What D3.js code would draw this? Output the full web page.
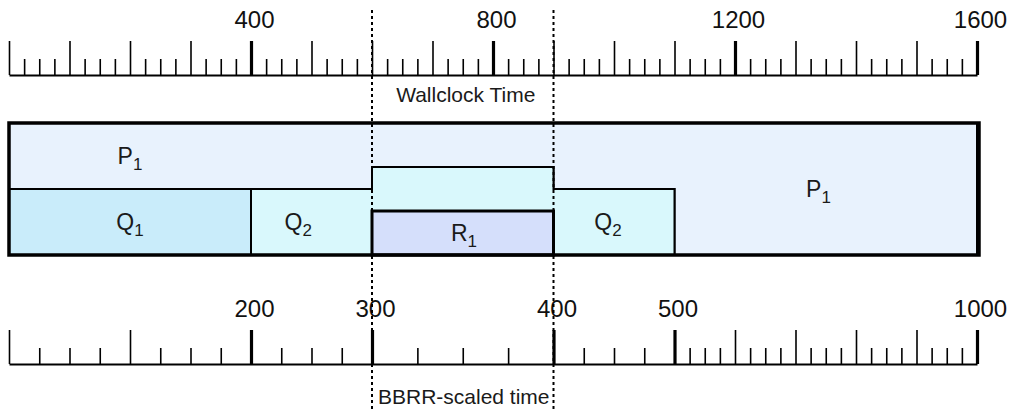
<!DOCTYPE html>
<html>
<head>
<meta charset="utf-8">
<script src="https://cdn.jsdelivr.net/npm/d3@7"></script>
<style>
  body { margin: 0; background: #fff; }
  svg { display: block; font-family: "Liberation Sans", Arial, sans-serif; }
</style>
</head>
<body>
<svg id="chart" width="1018" height="411"></svg>
<script>
// instants (wallclock) where the set of running jobs changes
const wallBreaks = [0, 400, 600, 900, 1100, 1600];
// BBRR-scaled time at those same instants
const bbrrBreaks = [0, 200, 300, 400, 500, 1000];
// jobs running in each interval, bottom to top
const running = [
  ['Q1', 'P1'],
  ['Q2', 'P1'],
  ['R1', 'Q2', 'P1'],
  ['Q2', 'P1'],
  ['P1'],
];
const jobs = ['P1', 'Q1', 'Q2', 'R1'];
const jobColors = { P1: '#e8f2fd', Q1: '#c9ecfa', Q2: '#d9f8fc', R1: '#d5dffb' };
// job labels: name, subscript, wallclock time, interval
const jobLabels = [
  { job: 'P1', name: 'P', sub: '1', t: 200, seg: 0 },
  { job: 'Q1', name: 'Q', sub: '1', t: 200, seg: 0 },
  { job: 'Q2', name: 'Q', sub: '2', t: 478, seg: 1 },
  { job: 'R1', name: 'R', sub: '1', t: 752, seg: 2 },
  { job: 'Q2', name: 'Q', sub: '2', t: 990, seg: 3 },
  { job: 'P1', name: 'P', sub: '1', t: 1338, seg: 4 },
];
const wallTicks = d3.range(0, 1601, 25);
const wallLabels = [400, 800, 1200, 1600];
const bbrrTicks = d3.range(0, 1001, 25);
const bbrrLabels = [200, 300, 400, 500, 1000];
const markers = [600, 900];

const svg = d3.select('#chart');
const x = d3.scaleLinear().domain([0, 1600]).range([9, 977]);
const xb = d3.scaleLinear().domain(bbrrBreaks).range(wallBreaks.map(x));
const y = d3.scaleLinear().domain([0, 1]).range([255, 123]);

// share of each job per interval (equal split, stacked)
function band(job, i) {
  const list = running[i];
  const j = list.indexOf(job);
  if (j < 0) return null;
  return { y0: j / list.length, y1: (j + 1) / list.length };
}

function jobPoints(job) {
  const pts = [];
  let last = null;
  running.forEach((list, i) => {
    const b = band(job, i);
    if (!b) return;
    pts.push({ t: wallBreaks[i], ...b });
    last = { t: wallBreaks[i + 1], ...b };
  });
  if (last) pts.push(last);
  return pts;
}

const area = d3.area()
  .curve(d3.curveStepAfter)
  .x((d) => x(d.t))
  .y0((d) => y(d.y0))
  .y1((d) => y(d.y1));

const blocks = svg.append('g').attr('class', 'blocks');
blocks.selectAll('path')
  .data(jobs)
  .join('path')
  .attr('d', (d) => area(jobPoints(d)))
  .attr('fill', (d) => jobColors[d])
  .attr('stroke', '#000')
  .attr('stroke-width', (d) => (d === 'R1' ? 3 : 2))
  .attr('stroke-linejoin', 'miter');

blocks.append('rect')
  .attr('x', x(0))
  .attr('y', y(1))
  .attr('width', x(1600) - x(0) + 2)
  .attr('height', y(0) - y(1))
  .attr('fill', 'none')
  .attr('stroke', '#000')
  .attr('stroke-width', 3.5);

const lbl = svg.append('g').attr('class', 'labels')
  .selectAll('text')
  .data(jobLabels)
  .join('text')
  .attr('x', (d) => x(d.t))
  .attr('y', (d) => {
    const b = band(d.job, d.seg);
    return y((b.y0 + b.y1) / 2) + 8;
  })
  .attr('text-anchor', 'middle')
  .attr('font-size', 23)
  .attr('fill', '#1a1a1a');
lbl.append('tspan').text((d) => d.name);
lbl.append('tspan').attr('font-size', 17).attr('dy', 6).text((d) => d.sub);

function drawAxis(scale, ticks, labelled, baseY) {
  const g = svg.append('g')
    .attr('transform', `translate(0,${baseY})`)
    .call(d3.axisTop(scale)
      .tickValues(ticks)
      .tickSizeInner(34)
      .tickSizeOuter(0)
      .tickPadding(13)
      .tickFormat((d) => (labelled.includes(d) ? d : '')));
  g.select('.domain').attr('stroke-width', 2);
  g.selectAll('.tick line')
    .attr('y2', (d) => (d % 100 === 0 || labelled.includes(d) ? -34 : -16))
    .attr('stroke-width', (d) => (labelled.includes(d) ? 3.2 : 1.6));
  g.selectAll('.tick text')
    .attr('font-size', 24)
    .attr('font-family', '"Liberation Sans", Arial, sans-serif')
    .attr('fill', '#111')
    .attr('dx', 3);
  return g;
}

drawAxis(x, wallTicks, wallLabels, 75);
drawAxis(xb, bbrrTicks, bbrrLabels, 364);

svg.append('text')
  .attr('x', (x(600) + x(900)) / 2 + 3)
  .attr('y', 102)
  .attr('text-anchor', 'middle')
  .attr('font-size', 21)
  .attr('fill', '#1a1a1a')
  .text('Wallclock Time');

svg.append('text')
  .attr('x', (x(600) + x(900)) / 2 + 1)
  .attr('y', 404)
  .attr('text-anchor', 'middle')
  .attr('font-size', 21)
  .attr('fill', '#1a1a1a')
  .text('BBRR-scaled time');

svg.append('g').attr('class', 'markers')
  .selectAll('line')
  .data(markers)
  .join('line')
  .attr('x1', (d) => x(d))
  .attr('x2', (d) => x(d))
  .attr('y1', 10)
  .attr('y2', 411)
  .attr('stroke', '#000')
  .attr('stroke-width', 2)
  .attr('stroke-dasharray', '3,3');
</script>
</body>
</html>
